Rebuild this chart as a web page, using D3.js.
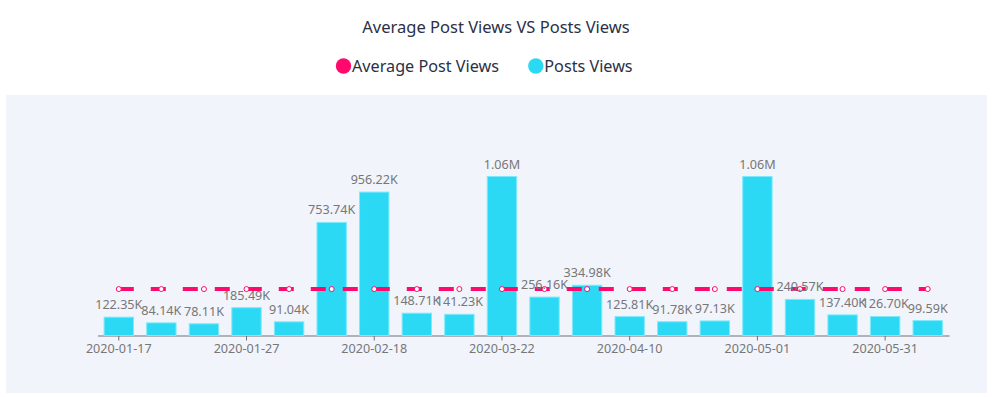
<html>
<head>
<meta charset="utf-8">
<script src="https://cdn.jsdelivr.net/npm/d3@7"></script>
<style>
  body { margin: 0; background: #fff; }
</style>
</head>
<body>
<div class="chart"></div>
<script>
// categories (only every 3rd label is shown on the axis)
var dates = ["2020-01-17", "2020-01-20", "2020-01-23", "2020-01-27", "2020-02-03",
             "2020-02-10", "2020-02-18", "2020-02-27", "2020-03-09", "2020-03-22",
             "2020-03-28", "2020-04-03", "2020-04-10", "2020-04-17", "2020-04-24",
             "2020-05-01", "2020-05-13", "2020-05-22", "2020-05-31", "2020-06-07"];
var postViews = [122350, 84140, 78110, 185490, 91040, 753740, 956220, 148710, 141230, 1060000,
                 256160, 334980, 125810, 91780, 97130, 1060000, 240570, 137400, 126700, 99590];
var avgViews = [309560, 309560, 309560, 309560, 309560, 309560, 309560, 309560, 309560, 309560,
                309560, 309560, 309560, 309560, 309560, 309560, 309560, 309560, 309560, 309560];
var yDomain = [0, 1200000];

var width = 992, height = 397;
var pink = "#ff0a6c", cyan = "#2bd9f5";
var font = "Noto Sans, sans-serif";

var svg = d3.select(".chart").append("svg")
    .attr("width", width)
    .attr("height", height);

// background panel
svg.append("rect")
    .attr("x", 6).attr("y", 95)
    .attr("width", 981).attr("height", 298)
    .attr("fill", "#f1f4fb");

// title
svg.append("text")
    .attr("x", 496).attr("y", 33)
    .attr("text-anchor", "middle")
    .attr("font-family", font)
    .attr("font-size", 16.5)
    .attr("fill", "#2b3045")
    .text("Average Post Views VS Posts Views");

// legend
var legend = [{name: "Average Post Views", color: pink, x: 343.5},
              {name: "Posts Views", color: cyan, x: 535.8}];
var lg = svg.selectAll(".legend").data(legend).enter().append("g")
    .attr("transform", function(d) { return "translate(" + d.x + ",66)"; });
lg.append("circle").attr("r", 7.7).attr("fill", function(d) { return d.color; });
lg.append("text")
    .attr("x", 8.5).attr("y", 6)
    .attr("font-family", font)
    .attr("font-size", 16.2)
    .attr("fill", "#2b3045")
    .text(function(d) { return d.name; });

var x = d3.scaleBand()
    .domain(dates)
    .range([97.5, 949])
    .paddingInner(0.31)
    .paddingOuter(0.155);

var y = d3.scaleLinear()
    .domain(yDomain)
    .range([335.5, 155.5]);

// x axis
var xAxis = d3.axisBottom(x)
    .tickValues(dates.filter(function(d, i) { return i % 3 === 0; }))
    .tickSize(5)
    .tickSizeOuter(0);
var gx = svg.append("g")
    .attr("transform", "translate(0," + y(0) + ")")
    .call(xAxis);
gx.select(".domain").attr("stroke", "#6e7079");
gx.selectAll(".tick line").attr("stroke", "#6e7079");
gx.selectAll(".tick text")
    .attr("dy", 0).attr("y", 17)
    .attr("font-family", font)
    .attr("font-size", 12.6)
    .attr("fill", "#777");

// bars
svg.selectAll(".bar")
    .data(postViews)
    .enter().append("rect")
    .attr("x", function(d, i) { return x(dates[i]); })
    .attr("y", function(d) { return y(d); })
    .attr("width", x.bandwidth())
    .attr("height", function(d) { return y(0) - y(d); })
    .attr("fill", cyan)
    .attr("stroke", "#7fe9fa")
    .attr("stroke-width", 1);

// bar labels
function fmt(v) {
    if (v >= 1000000) return (v / 1000000).toFixed(2) + "M";
    return (v / 1000).toFixed(2) + "K";
}

// average line
var line = d3.line()
    .x(function(d, i) { return x(dates[i]) + x.bandwidth() / 2; })
    .y(function(d) { return y(d); });
svg.append("path")
    .datum(avgViews)
    .attr("d", line)
    .attr("fill", "none")
    .attr("stroke", pink)
    .attr("stroke-width", 4)
    .attr("stroke-dasharray", "15,17");

svg.selectAll(".dot")
    .data(avgViews)
    .enter().append("circle")
    .attr("cx", function(d, i) { return x(dates[i]) + x.bandwidth() / 2; })
    .attr("cy", function(d) { return y(d); })
    .attr("r", 2.5)
    .attr("fill", "#fff")
    .attr("stroke", pink)
    .attr("stroke-width", 1);

svg.selectAll(".label")
    .data(postViews)
    .enter().append("text")
    .attr("x", function(d, i) { return x(dates[i]) + x.bandwidth() / 2; })
    .attr("y", function(d) { return y(d) - 8; })
    .attr("text-anchor", "middle")
    .attr("font-family", font)
    .attr("font-size", 12.6)
    .attr("fill", "#777")
    .text(function(d) { return fmt(d); });
</script>
</body>
</html>
